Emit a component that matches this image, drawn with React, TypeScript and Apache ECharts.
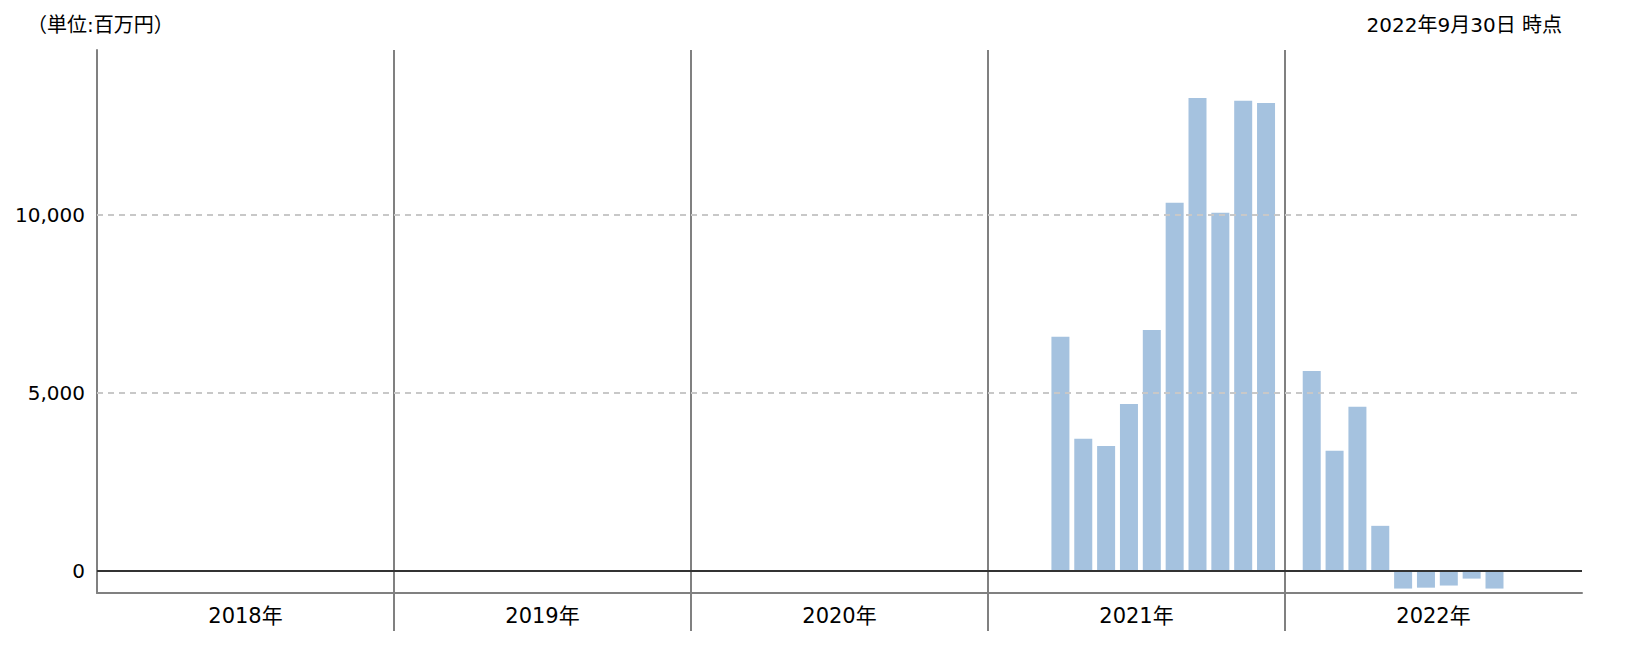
import React, { useEffect, useRef } from 'react';
import * as echarts from 'echarts';

// Year categories (x-axis labels)
const years = ['2018年', '2019年', '2020年', '2021年', '2022年'];

// Monthly values (百万円), Jan..Dec, null = no data
const values2018: (number | null)[] = [null, null, null, null, null, null, null, null, null, null, null, null];
const values2019: (number | null)[] = [null, null, null, null, null, null, null, null, null, null, null, null];
const values2020: (number | null)[] = [null, null, null, null, null, null, null, null, null, null, null, null];
const values2021: (number | null)[] = [null, null, 6580, 3710, 3510, 4690, 6770, 10350, 13300, 10070, 13220, 13160];
const values2022: (number | null)[] = [5620, 3370, 4610, 1260, -505, -480, -420, -225, -505, null, null, null];

// Y tick labels
const yTickValues = [0, 5000, 10000];

const unitLabel = '（単位:百万円）';
const asOfLabel = '2022年9月30日 時点';

const SLOTS_PER_YEAR = 13;
const MONTH_OFFSET = 1.17;

export default function App() {
  const ref = useRef<HTMLDivElement>(null);

  useEffect(() => {
    document.body.style.margin = '0';
    if (!ref.current) return;
    const chart = echarts.init(ref.current, undefined, { renderer: 'svg' });

    const monthly = [values2018, values2019, values2020, values2021, values2022];
    const barData: [number, number][] = [];
    monthly.forEach((arr, yi) => {
      arr.forEach((v, m) => {
        if (v !== null) barData.push([yi * SLOTS_PER_YEAR + MONTH_OFFSET + m, v]);
      });
    });

    const font = '"DejaVu Sans", "Noto Sans CJK JP", sans-serif';
    const total = years.length * SLOTS_PER_YEAR;
    const boundaries = years.slice(1).map((_, i) => (i + 1) * SLOTS_PER_YEAR);

    chart.setOption({
      animation: false,
      backgroundColor: '#ffffff',
      textStyle: { fontFamily: font },
      title: [
        {
          text: unitLabel,
          left: 22,
          top: 10,
          textStyle: { fontSize: 20, fontWeight: 'normal', color: '#000', fontFamily: font },
        },
        {
          text: asOfLabel,
          right: 59,
          top: 10,
          textStyle: { fontSize: 20, fontWeight: 'normal', color: '#000', fontFamily: font },
        },
      ],
      grid: { left: 97, right: 44, top: 50, bottom: 53, containLabel: false },
      xAxis: [
        {
          type: 'value',
          min: 0,
          max: total,
          interval: SLOTS_PER_YEAR,
          position: 'bottom',
          axisLine: { show: true, onZero: false, lineStyle: { color: '#808080', width: 2 } },
          axisLabel: { show: false },
          axisTick: {
            show: true,
            inside: false,
            length: 38,
            customValues: boundaries,
            lineStyle: { color: '#808080', width: 2 },
          },
          splitLine: {
            show: true,
            showMinLine: true,
            showMaxLine: true,
            lineStyle: { color: '#808080', width: 2 },
          },
        },
        {
          type: 'category',
          data: years,
          position: 'bottom',
          boundaryGap: true,
          axisLine: { show: false },
          axisTick: { show: false },
          splitLine: { show: false },
          axisLabel: { fontSize: 21, color: '#000', margin: 12, fontFamily: font },
        },
      ],
      yAxis: {
        type: 'value',
        min: -630,
        max: 14650,
        axisLine: { show: true, lineStyle: { color: '#808080', width: 2 } },
        axisTick: { show: false },
        splitLine: { show: false },
        axisLabel: {
          customValues: yTickValues,
          fontSize: 20,
          color: '#000',
          margin: 12,
          fontFamily: font,
          formatter: (v: number) => v.toLocaleString('en-US'),
        },
      },
      series: [
        {
          type: 'bar',
          xAxisIndex: 0,
          yAxisIndex: 0,
          data: barData,
          barWidth: 18,
          itemStyle: { color: '#a5c2df' },
          markLine: {
            silent: true,
            symbol: 'none',
            label: { show: false },
            data: [
              { yAxis: 5000, lineStyle: { color: '#c8c8c8', width: 2, type: [6, 5] } },
              { yAxis: 10000, lineStyle: { color: '#c8c8c8', width: 2, type: [6, 5] } },
              { yAxis: 0, lineStyle: { color: '#333333', width: 2, type: 'solid' } },
            ],
          },
        },
      ],
    });

    return () => chart.dispose();
  }, []);

  return (
    <div
      ref={ref}
      style={{ position: 'absolute', left: 0, top: 0, width: 1626, height: 646 }}
    />
  );
}
